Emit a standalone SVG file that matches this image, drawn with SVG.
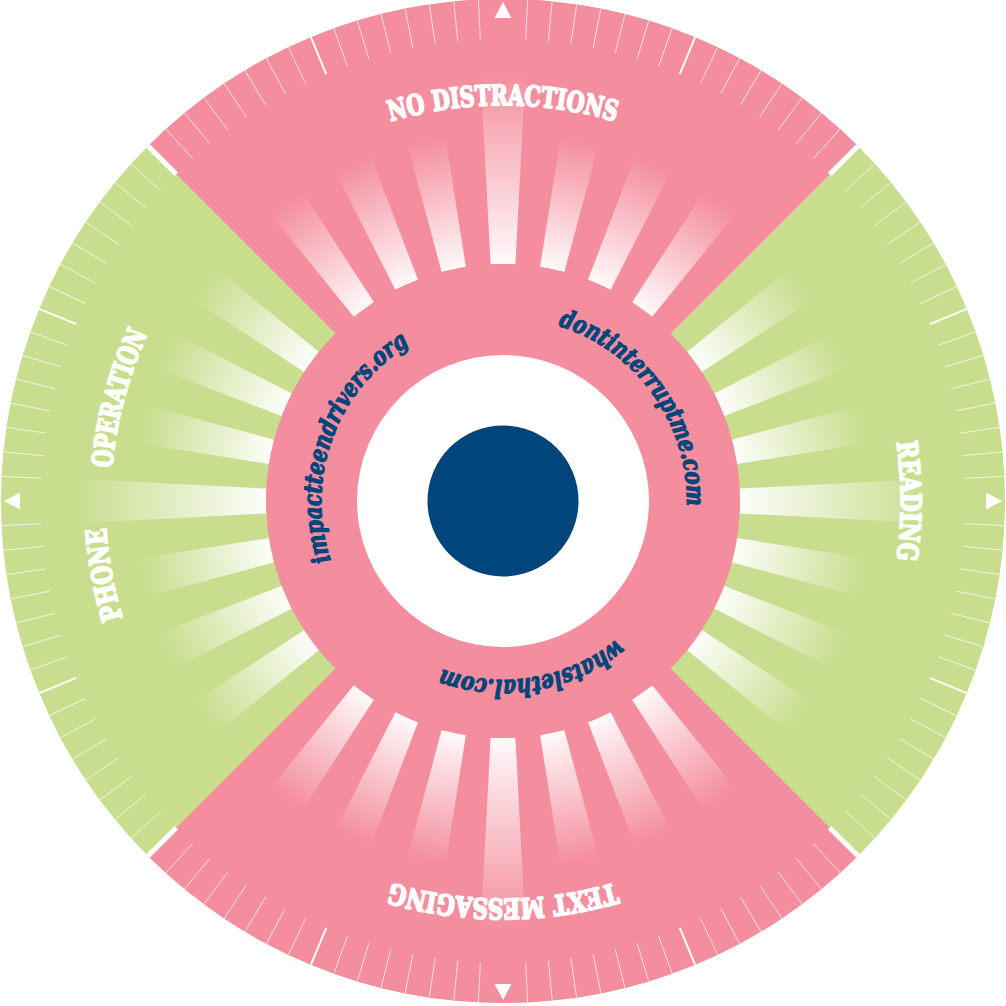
<svg xmlns="http://www.w3.org/2000/svg" xmlns:xlink="http://www.w3.org/1999/xlink" width="1006" height="1006" viewBox="0 0 1006 1006">
<style>
.pink{fill:#f48d9d}
.green{fill:#c8dd8d}
.tk{stroke:#ffffff;stroke-width:0.9;stroke-opacity:0.75}
.tkm{stroke:#ffffff;stroke-width:2}
.tkb{stroke:#ffffff;stroke-width:5}
.lbl{font-family:"DejaVu Serif","Liberation Serif",serif;font-weight:bold;font-size:28px;fill:#ffffff;stroke:#ffffff;stroke-width:1.9;stroke-linejoin:round}
.url{font-family:"DejaVu Serif","Liberation Serif",serif;font-weight:bold;font-style:italic;font-size:25px;fill:#00457b;stroke:#00457b;stroke-width:1.2;stroke-linejoin:round}
</style>
<defs>
<linearGradient id="rg" x1="0" y1="1" x2="0" y2="0">
<stop offset="0" stop-color="#ffffff" stop-opacity="0.95"/>
<stop offset="1" stop-color="#ffffff" stop-opacity="0"/>
</linearGradient>
<path id="rayL" d="M-12.4,-236.7 L-22.5,-429.4 L22.5,-429.4 L12.4,-236.7 Z" fill="url(#rg)"/>
<path id="rayS" d="M-12.4,-236.7 L-19.4,-369.5 L19.4,-369.5 L12.4,-236.7 Z" fill="url(#rg)"/>
<g id="fan">
<use xlink:href="#rayL"/>
<use xlink:href="#rayS" transform="rotate(12)"/>
<use xlink:href="#rayS" transform="rotate(-12)"/>
<use xlink:href="#rayS" transform="rotate(24)"/>
<use xlink:href="#rayS" transform="rotate(-24)"/>
<use xlink:href="#rayS" transform="rotate(36)"/>
<use xlink:href="#rayS" transform="rotate(-36)"/>
</g>
<line id="t" class="tk" x1="0" y1="-462" x2="0" y2="-504"/>
<line id="tm" class="tkm" x1="0" y1="-462" x2="0" y2="-504"/>
<line id="tb" class="tkb" x1="0" y1="-462" x2="0" y2="-504"/>
<g id="quad">
<use xlink:href="#t" transform="rotate(2.8125)"/>
<use xlink:href="#t" transform="rotate(5.625)"/>
<use xlink:href="#t" transform="rotate(8.4375)"/>
<use xlink:href="#t" transform="rotate(11.25)"/>
<use xlink:href="#t" transform="rotate(14.0625)"/>
<use xlink:href="#t" transform="rotate(16.875)"/>
<use xlink:href="#t" transform="rotate(19.6875)"/>
<use xlink:href="#tm" transform="rotate(22.5)"/>
<use xlink:href="#t" transform="rotate(25.3125)"/>
<use xlink:href="#t" transform="rotate(28.125)"/>
<use xlink:href="#t" transform="rotate(30.9375)"/>
<use xlink:href="#t" transform="rotate(33.75)"/>
<use xlink:href="#t" transform="rotate(36.5625)"/>
<use xlink:href="#t" transform="rotate(39.375)"/>
<use xlink:href="#t" transform="rotate(42.1875)"/>
<use xlink:href="#tb" transform="rotate(45)"/>
<use xlink:href="#t" transform="rotate(47.8125)"/>
<use xlink:href="#t" transform="rotate(50.625)"/>
<use xlink:href="#t" transform="rotate(53.4375)"/>
<use xlink:href="#t" transform="rotate(56.25)"/>
<use xlink:href="#t" transform="rotate(59.0625)"/>
<use xlink:href="#t" transform="rotate(61.875)"/>
<use xlink:href="#t" transform="rotate(64.6875)"/>
<use xlink:href="#tm" transform="rotate(67.5)"/>
<use xlink:href="#t" transform="rotate(70.3125)"/>
<use xlink:href="#t" transform="rotate(73.125)"/>
<use xlink:href="#t" transform="rotate(75.9375)"/>
<use xlink:href="#t" transform="rotate(78.75)"/>
<use xlink:href="#t" transform="rotate(81.5625)"/>
<use xlink:href="#t" transform="rotate(84.375)"/>
<use xlink:href="#t" transform="rotate(87.1875)"/>
</g>
<path id="tri" d="M0,-499 L8.5,-483 L-8.5,-483 Z" fill="#ffffff"/>
<clipPath id="disc"><circle cx="503" cy="501" r="502"/></clipPath>
<path id="pNo" d="M107,501 A396,396 0 0 1 899,501"/>
<path id="pRead" d="M503,103 A398,398 0 0 1 503,899"/>
<path id="pText" d="M901,501 A398,398 0 0 1 105,501"/>
<path id="pPhone" d="M575.5,892.4 A398,398 0 0 1 430.5,109.6"/>
<path id="pOper" d="M400,885.4 A398,398 0 0 1 606,116.6"/>
<path id="pDont" d="M396.15,351.2 A184,184 0 0 1 609.85,650.8"/>
<path id="pImp" d="M440.1,673.9 A184,184 0 0 1 565.9,328.1"/>
<path id="pWhat" d="M679.4,470.7 A178,178 0 0 1 326.6,531.3"/>
</defs>

<g id="dial">
<circle class="green" cx="503" cy="501" r="502"/>
<path id="sector-top" class="pink" d="M503,501 L148,146 A502,502 0 0 1 858,146 Z"/>
<path id="sector-bottom" class="pink" d="M503,501 L858,856 A502,502 0 0 1 148,856 Z"/>
</g>

<g id="rays" transform="translate(503,501)">
<use xlink:href="#fan"/>
<use xlink:href="#fan" transform="rotate(90)"/>
<use xlink:href="#fan" transform="rotate(180)"/>
<use xlink:href="#fan" transform="rotate(270)"/>
</g>

<g id="ticks" clip-path="url(#disc)">
<g transform="translate(503,501)">
<use xlink:href="#quad"/>
<use xlink:href="#quad" transform="rotate(90)"/>
<use xlink:href="#quad" transform="rotate(180)"/>
<use xlink:href="#quad" transform="rotate(270)"/>
<use xlink:href="#tri"/>
<use xlink:href="#tri" transform="rotate(90)"/>
<use xlink:href="#tri" transform="rotate(180)"/>
<use xlink:href="#tri" transform="rotate(270)"/>
</g>
</g>

<g id="labels">
<text class="lbl"><textPath xlink:href="#pNo" startOffset="50%" text-anchor="middle" textLength="228" lengthAdjust="spacingAndGlyphs">NO DISTRACTIONS</textPath></text>
<text class="lbl"><textPath xlink:href="#pRead" startOffset="50%" text-anchor="middle" textLength="118" lengthAdjust="spacingAndGlyphs">READING</textPath></text>
<text class="lbl"><textPath xlink:href="#pText" startOffset="50%" text-anchor="middle" textLength="227" lengthAdjust="spacingAndGlyphs">TEXT MESSAGING</textPath></text>
<text class="lbl"><textPath xlink:href="#pPhone" startOffset="50%" text-anchor="middle" textLength="92" lengthAdjust="spacingAndGlyphs">PHONE</textPath></text>
<text class="lbl"><textPath xlink:href="#pOper" startOffset="50%" text-anchor="middle" textLength="140" lengthAdjust="spacingAndGlyphs">OPERATION</textPath></text>
</g>

<g id="hub">
<circle class="pink" cx="503" cy="501" r="237"/>
<circle cx="503" cy="501" r="146" fill="#ffffff"/>
<circle cx="503" cy="501" r="75.5" fill="#00457b"/>
</g>

<g id="urls">
<text class="url"><textPath xlink:href="#pDont" startOffset="50%" text-anchor="middle" textLength="238" lengthAdjust="spacingAndGlyphs">dontinterruptme.com</textPath></text>
<text class="url"><textPath xlink:href="#pImp" startOffset="50%" text-anchor="middle" textLength="248" lengthAdjust="spacingAndGlyphs">impactteendrivers.org</textPath></text>
<text class="url"><textPath xlink:href="#pWhat" startOffset="50%" text-anchor="middle" textLength="186" lengthAdjust="spacingAndGlyphs">whatslethal.com</textPath></text>
</g>
</svg>
